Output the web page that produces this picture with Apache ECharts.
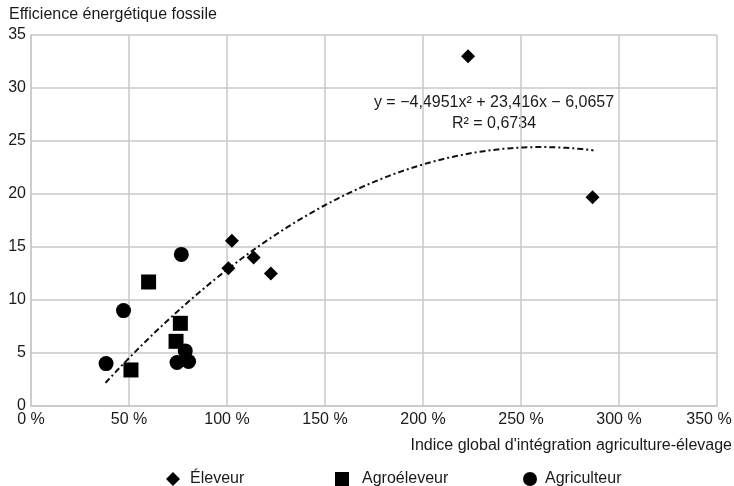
<!DOCTYPE html>
<html><head><meta charset="utf-8">
<script src="https://cdn.jsdelivr.net/npm/echarts@6/dist/echarts.min.js"></script>
<style>html,body{margin:0;padding:0;background:#fff}#c{width:734px;height:486px}</style>
</head><body><div id="c"></div>
<script>
const xTicks = [0, 50, 100, 150, 200, 250, 300, 350];
const eleveurX = [223, 286.5, 102.5, 100.7, 113.6, 122.4];
const eleveurY = [33.0, 19.7, 15.6, 13.0, 14.0, 12.5];
const agroX = [60.0, 76.2, 74.0, 51.0];
const agroY = [11.7, 7.8, 6.1, 3.4];
const agriX = [76.7, 47.2, 38.3, 78.7, 74.5, 80.4];
const agriY = [14.3, 9.0, 4.0, 5.2, 4.1, 4.2];
const trendCoef = [-4.4951, 23.416, -6.0657];
const trendRange = [38, 287];
const equationText = ['y = −4,4951x² + 23,416x − 6,0657', 'R² = 0,6734'];

const zip = (a, b) => a.map((v, i) => [v, b[i]]);
const trend = [];
for (let x = trendRange[0]; x <= trendRange[1]; x += 1) {
  const f = x / 100;
  trend.push([x, trendCoef[0] * f * f + trendCoef[1] * f + trendCoef[2]]);
}
const font = '"Liberation Sans", Arial, sans-serif';
const txt = '#1a1a1a';
const chart = echarts.init(document.getElementById('c'), null, {renderer: 'canvas'});
const legendBase = {top: 466, itemWidth: 14, itemHeight: 14, itemGap: 0};
const lt = pad => ({fontFamily: font, fontSize: 16, color: txt, padding: [0, 0, 0, pad]});
const xMax = xTicks[xTicks.length - 1];
chart.setOption({
  animation: false,
  textStyle: {fontFamily: font},
  grid: {left: 31, right: 17, top: 35, bottom: 80, containLabel: false, outerBoundsMode: 'none'},
  xAxis: {
    type: 'value', min: xTicks[0], max: xMax, interval: 50,
    axisLine: {show: true, lineStyle: {color: '#c8c8c8', width: 1.5}},
    axisTick: {show: false},
    splitLine: {show: true, lineStyle: {color: '#c8c8c8', width: 1.5}},
    axisLabel: {color: txt, fontSize: 16, fontFamily: font, margin: 6, showMaxLabel: true,
      formatter: v => v === xMax ? '{m|' + v + ' %}' : v + ' %',
      rich: {m: {fontSize: 16, fontFamily: font, color: txt, padding: [0, 16, 0, 0]}}},
    name: "Indice global d'intégration agriculture-élevage",
    nameLocation: 'end', nameGap: 0,
    nameTextStyle: {fontSize: 16, color: txt, fontFamily: font, align: 'right', verticalAlign: 'top', padding: [32, -15, 0, 0]}
  },
  yAxis: {
    type: 'value', min: 0, max: 35, interval: 5,
    axisLine: {show: true, lineStyle: {color: '#c8c8c8', width: 1.5}},
    axisTick: {show: false},
    splitLine: {show: true, lineStyle: {color: '#c8c8c8', width: 1.5}},
    axisLabel: {color: txt, fontSize: 16, fontFamily: font, margin: 5},
    name: 'Efficience énergétique fossile',
    nameLocation: 'end', nameGap: 12,
    nameTextStyle: {fontSize: 16, color: txt, fontFamily: font, align: 'left', padding: [0, 0, 0, -22]}
  },
  legend: [
    Object.assign({}, legendBase, {left: 161, textStyle: lt(5), data: [{name: 'Éleveur', icon: 'diamond'}]}),
    Object.assign({}, legendBase, {left: 330, textStyle: lt(8), data: [{name: 'Agroéleveur', icon: 'rect'}]}),
    Object.assign({}, legendBase, {left: 518, textStyle: lt(3), data: [{name: 'Agriculteur', icon: 'circle'}]})
  ],
  graphic: [
    {type: 'text', x: 494, y: 103, style: {text: equationText[0], font: '16px ' + font, fill: txt, textAlign: 'center', textVerticalAlign: 'middle'}},
    {type: 'text', x: 494, y: 124, style: {text: equationText[1], font: '16px ' + font, fill: txt, textAlign: 'center', textVerticalAlign: 'middle'}}
  ],
  series: [
    {name: 'Trend', type: 'line', data: trend, showSymbol: false, silent: true, z: 1,
      lineStyle: {color: '#111', width: 2, type: [6, 3, 2, 3]}},
    {name: 'Éleveur', type: 'scatter', symbol: 'diamond', symbolSize: 14, data: zip(eleveurX, eleveurY),
      itemStyle: {color: '#000', opacity: 1}, z: 3},
    {name: 'Agroéleveur', type: 'scatter', symbol: 'rect', symbolSize: 15, data: zip(agroX, agroY),
      itemStyle: {color: '#000', opacity: 1}, z: 3},
    {name: 'Agriculteur', type: 'scatter', symbol: 'circle', symbolSize: 15, data: zip(agriX, agriY),
      itemStyle: {color: '#000', opacity: 1}, z: 3}
  ]
});
</script></body></html>
